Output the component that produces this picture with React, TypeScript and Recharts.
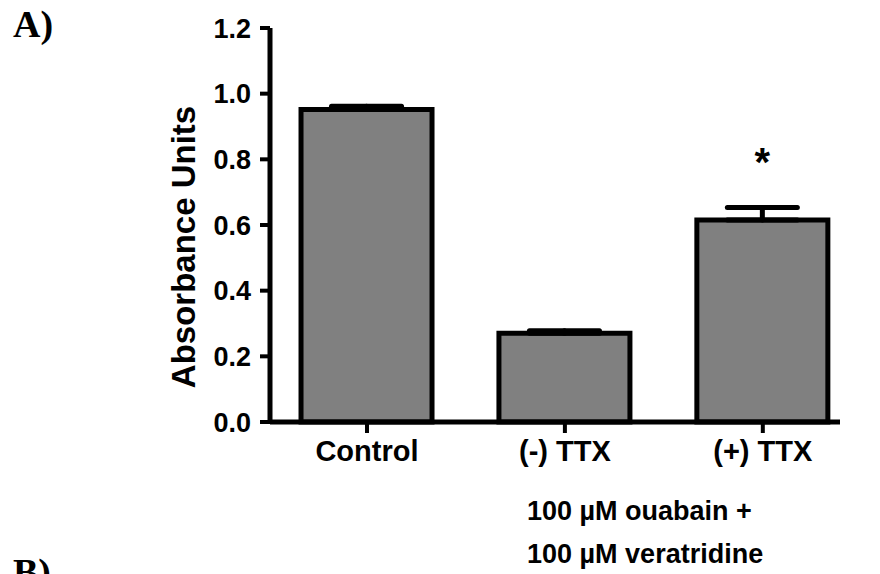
import { BarChart, Bar, XAxis, YAxis, ErrorBar, LabelList, ReferenceLine } from "recharts";

const categories = ["Control", "(-) TTX", "(+) TTX"];
const absorbance = [0.952, 0.27, 0.615];
const sem = [0.01, 0.008, 0.038];
const significance = ["", "", "*"];
const yTicks = [0, 0.2, 0.4, 0.6, 0.8, 1.0, 1.2];
const treatmentLines = ["100 \u00b5M ouabain +", "100 \u00b5M veratridine"];

const FONT = "'Liberation Sans', Arial, Helvetica, sans-serif";
const X_DOMAIN: [number, number] = [0.51, 3.39];

const data = categories.map((name, i) => ({
  pos: i + 1,
  name,
  absorbance: absorbance[i],
  err: [0, sem[i]],
}));

const StarLabel = (props: any) => {
  const { x, y, width, height, index } = props;
  const mark = significance[index];
  if (!mark) return null;
  const perUnit = height / absorbance[index];
  const errTop = y - sem[index] * perUnit;
  return (
    <text
      x={x + width / 2}
      y={errTop - 32}
      textAnchor="middle"
      fontFamily={FONT}
      fontWeight="bold"
      fontSize={40}
      fill="#000"
    >
      {mark}
    </text>
  );
};

const YLabel = (props: any) => {
  const vb = props.viewBox;
  const cx = vb.x + 183;
  const cy = vb.y + vb.height / 2 + 22;
  return (
    <text
      x={cx}
      y={cy}
      transform={`rotate(-90 ${cx} ${cy})`}
      textAnchor="middle"
      dominantBaseline="central"
      fontFamily={FONT}
      fontWeight="bold"
      fontSize={33}
      fill="#000"
    >
      Absorbance Units
    </text>
  );
};

const XLabel = (props: any) => {
  const vb = props.viewBox;
  return (
    <text fontFamily={FONT} fontWeight="bold" fontSize={27} fill="#000">
      {treatmentLines.map((line, i) => (
        <tspan key={i} x={vb.x + 257} y={vb.y + 98 + i * 43}>
          {line}
        </tspan>
      ))}
    </text>
  );
};

function App() {
  return (
    <div style={{ position: "absolute", left: 0, top: 0, width: 880, height: 574, background: "#fff" }}>
      <BarChart
        width={880}
        height={574}
        data={data}
        margin={{ top: 28, right: 40, left: 0, bottom: 0 }}
      >
        <XAxis
          type="number"
          dataKey="pos"
          domain={X_DOMAIN}
          allowDataOverflow
          ticks={[1, 2, 3]}
          interval={0}
          tickFormatter={(v: number) => categories[v - 1]}
          height={152}
          axisLine={false}
          tickLine={{ stroke: "#000", strokeWidth: 4 }}
          tickSize={11}
          tickMargin={7}
          tick={{ fill: "#000", fontSize: 29, fontWeight: "bold", fontFamily: FONT }}
          label={{ content: XLabel }}
        />
        <YAxis
          width={270}
          domain={[0, 1.2]}
          ticks={yTicks}
          interval={0}
          tickFormatter={(v: number) => v.toFixed(1)}
          axisLine={false}
          tickLine={{ stroke: "#000", strokeWidth: 4 }}
          tickSize={10}
          tickMargin={9}
          tick={{ fill: "#000", fontSize: 27, fontWeight: "bold", fontFamily: FONT }}
          label={{ content: YLabel }}
        />
        <Bar
          dataKey="absorbance"
          fill="#808080"
          stroke="#000"
          strokeWidth={5}
          barSize={131}
          isAnimationActive={false}
        >
          <ErrorBar
            dataKey="err"
            direction="y"
            width={35}
            stroke="#000"
            strokeWidth={5}
            strokeLinecap="round"
            isAnimationActive={false}
          />
          <LabelList dataKey="absorbance" content={StarLabel} />
        </Bar>
        <ReferenceLine x={X_DOMAIN[0]} stroke="#000" strokeWidth={5} />
        <ReferenceLine y={0} stroke="#000" strokeWidth={5} />
      </BarChart>
      <svg
        width={880}
        height={574}
        style={{ position: "absolute", left: 0, top: 0, pointerEvents: "none" }}
      >
        <text x={13} y={37} fontFamily="'Liberation Serif', 'Times New Roman', serif" fontWeight="bold" fontSize={38} fill="#000">
          A)
        </text>
        <text x={13} y={585} fontFamily="'Liberation Serif', 'Times New Roman', serif" fontWeight="bold" fontSize={38} fill="#000">
          B)
        </text>
      </svg>
    </div>
  );
}

export default App;
